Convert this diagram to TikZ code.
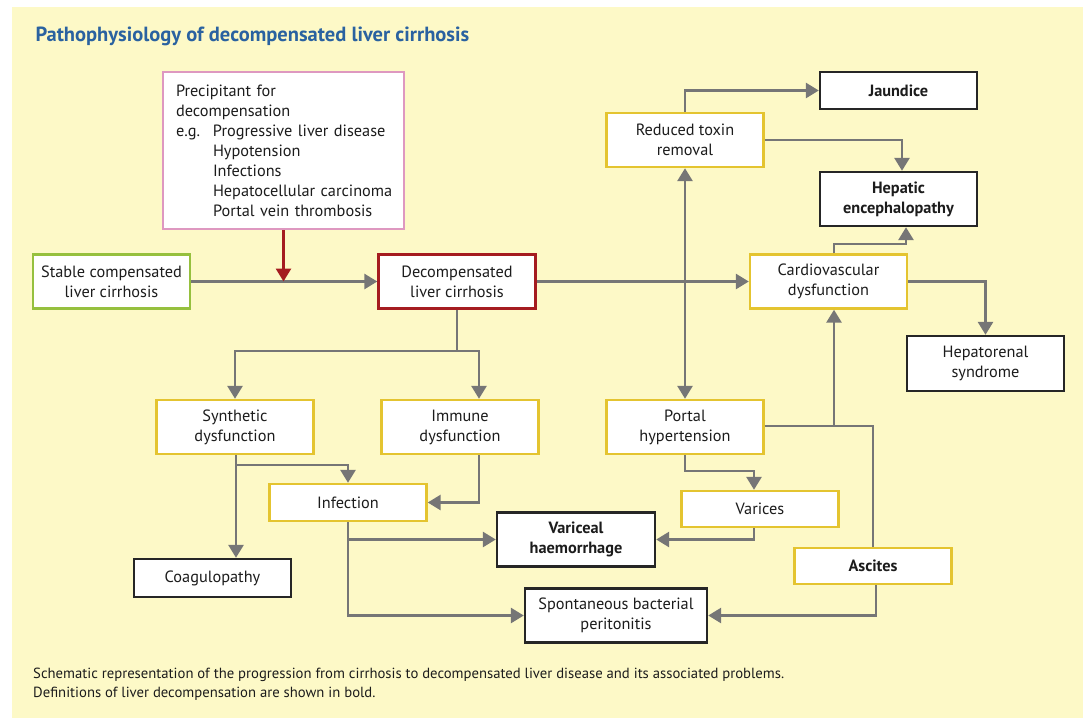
\documentclass[tikz,border=0pt]{standalone}
\usepackage{fontspec}
\setmainfont{PT Sans}
\usetikzlibrary{arrows.meta}
\definecolor{bgyellow}{RGB}{253,249,199}
\definecolor{boxyellow}{RGB}{228,196,48}
\definecolor{linegray}{RGB}{118,118,118}
\definecolor{darkred}{RGB}{165,28,32}
\definecolor{pinkline}{RGB}{222,152,192}
\definecolor{greenline}{RGB}{150,192,62}
\definecolor{titleblue}{RGB}{42,98,160}
\definecolor{textgray}{RGB}{28,28,28}

\begin{document}
\begin{tikzpicture}[x=1pt,y=-1pt,
	box/.style={draw=boxyellow, line width=2.4pt, fill=white, text=textgray, align=center,
		minimum width=157pt, minimum height=54pt, inner sep=2pt, font=\fontsize{16.3}{20}\selectfont},
	smallbox/.style={box, minimum height=37pt},
	endbox/.style={box, draw=black!85},
	arr/.style={draw=linegray, line width=2.8pt, -{Triangle[length=13pt,width=15pt]}},
	arrs/.style={arr, {Triangle[length=13pt,width=15pt]}-{Triangle[length=13pt,width=15pt]}},
	plain/.style={draw=linegray, line width=2.8pt}]
	\useasboundingbox (0,0) rectangle (1089,718);
	\fill[bgyellow] (12,7) rectangle (1083,718);
	\node[anchor=west, text=titleblue, font=\fontsize{20.5}{24}\selectfont\bfseries] (title) at (32,36) {Pathophysiology of decompensated liver cirrhosis};

	% left column
	\node[box, draw=pinkline, align=left, minimum width=241pt, minimum height=157pt, text width=215pt, inner xsep=13pt] (prec) at (283.5,150.5)
		{Precipitant for\\decompensation\\\makebox[37pt][l]{e.g.}\mbox{Progressive liver disease}\\\hspace*{37pt}Hypotension\\\hspace*{37pt}Infections\\\hspace*{37pt}\mbox{Hepatocellular carcinoma}\\\hspace*{37pt}\mbox{Portal vein thrombosis}};
	\node[box, draw=greenline] (stable) at (111.5,281.5) {Stable compensated\\liver cirrhosis};
	\node[box, draw=darkred] (decomp) at (457,281.5) {Decompensated\\liver cirrhosis};
	\node[box] (synth) at (235,427) {Synthetic\\dysfunction};
	\node[box] (immune) at (460,427) {Immune\\dysfunction};
	\node[smallbox] (infect) at (348,502.5) {Infection};
	\node[endbox, minimum height=38pt] (coag) at (212.5,578) {Coagulopathy};
	\node[endbox, minimum width=158pt, font=\fontsize{16.3}{20}\selectfont\bfseries] (varhaem) at (576,539.5) {Variceal\\haemorrhage};
	\node[endbox, minimum width=182pt] (sbp) at (616,615.5) {Spontaneous bacterial\\peritonitis};

	% right column
	\node[box] (toxin) at (685,140) {Reduced toxin\\removal};
	\node[endbox, minimum height=37pt, font=\fontsize{16.3}{20}\selectfont\bfseries] (jaund) at (898.5,90.5) {Jaundice};
	\node[endbox, font=\fontsize{16.3}{20}\selectfont\bfseries] (hepenc) at (898.5,199) {Hepatic\\encephalopathy};
	\node[box] (cardio) at (828.5,281.5) {Cardiovascular\\dysfunction};
	\node[endbox, minimum height=55pt] (hepren) at (985.5,363.5) {Hepatorenal\\syndrome};
	\node[box] (portal) at (685,427) {Portal\\hypertension};
	\node[smallbox, minimum height=36pt] (varices) at (760,509) {Varices};
	\node[smallbox, minimum height=36pt, font=\fontsize{16.3}{20}\selectfont\bfseries] (ascites) at (873,566) {Ascites};

	% caption
	\node[anchor=north west, align=left, text=textgray, inner sep=0pt, font=\fontsize{14.7}{19}\selectfont] (caption) at (33,668)
		{Schematic representation of the progression from cirrhosis to decompensated liver disease and its associated problems.\\Definitions of liver decompensation are shown in bold.};

	\coordinate (split) at (457,351);
	\coordinate (synsplit) at (236,465);
	\coordinate (pv) at (754,471);
	\coordinate (pj) at (834,426);
	\coordinate (cvtop) at (834,244);

	\draw[arr] (stable.east) -- (decomp.west);
	\draw[arr, draw=darkred] (prec.south) -- (prec.south |- stable.east);
	\draw[arr] (decomp.east) -- (cardio.west);
	\draw[arr] (decomp.south) -- (split) -| (synth.north);
	\draw[arr] (split) -| ([xshift=19pt]immune.north);
	\draw[arr] (synsplit |- synth.south) -- (synsplit |- coag.north);
	\draw[arr] (synsplit) -| (infect.north);
	\draw[arr] ([xshift=19pt]immune.south) |- (infect.east);
	\draw[arr] (infect.south) |- (sbp.west);
	\draw[arr] (infect.south |- varhaem.west) -- (varhaem.west);
	\draw[arr] (toxin.north) |- (jaund.west);
	\draw[arr] (toxin.east) -| ([xshift=3.5pt]hepenc.north);
	\draw[arr] (cvtop |- cardio.north) -- (cvtop) -| ([xshift=7.5pt]hepenc.south);
	\draw[arr] (cardio.east) -| (hepren.north);
	\draw[arrs] (toxin.south) -- (portal.north);
	\draw[plain] (portal.east |- pj) -| (ascites.north);
	\draw[arr] (pj) -- (pj |- cardio.south);
	\draw[arr] (portal.south) |- (pv) -- (pv |- varices.north);
	\draw[arr] (pv |- varices.south) |- (varhaem.east);
	\draw[arr] ([xshift=3pt]ascites.south) |- (sbp.east);
\end{tikzpicture}
\end{document}
